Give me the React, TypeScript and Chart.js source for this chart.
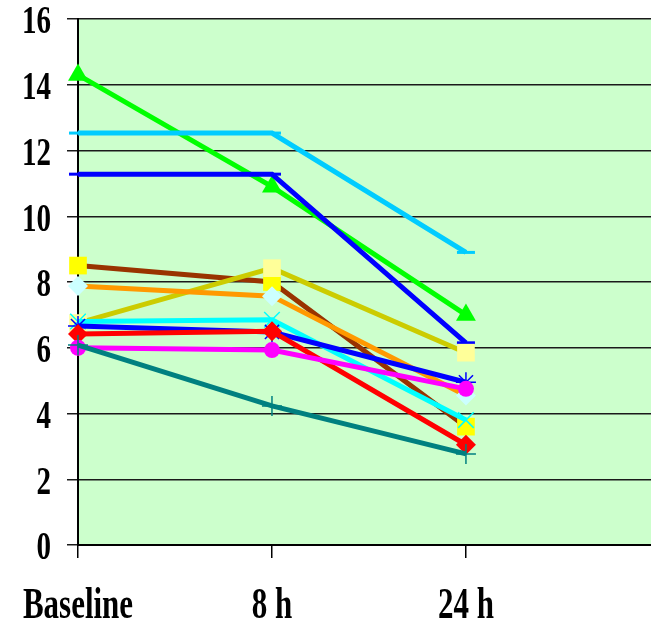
import React, { useEffect, useRef } from "react";
import { Chart, registerables } from "chart.js";

Chart.register(...registerables);

// Time points on the x axis
const categories = ["Baseline", "8 h", "24 h"];

// Y axis range / labels
const yMin = 0;
const yMax = 16;
const yStep = 2;

// Series values at Baseline, 8 h, 24 h
const tealPlus = [6.08, 4.23, 2.77];
const magentaCircle = [6.0, 5.93, 4.75];
const redDiamond = [6.42, 6.5, 3.05];
const blueStar = [6.66, 6.48, 4.95];
const cyanCross = [6.8, 6.85, 3.8];
const orangeDiamond = [7.88, 7.57, 4.55];
const oliveSquare = [6.75, 8.42, 5.85];
const brownSquare = [8.5, 8.0, 3.6];
const blueDash = [11.28, 11.28, 6.15];
const skyDash = [12.53, 12.53, 8.9];
const greenTriangle = [14.3, 10.9, 7.0];

const LABEL_FONT = '"Liberation Serif", "Times New Roman", serif';

const toPoints = (vals: number[]) => vals.map((v, i) => ({ x: i, y: v }));

function series(
  values: number[],
  line: string,
  pointStyle: string,
  pointFill: string,
  radius: number,
  pointBorder = 0,
  pointStroke?: string
) {
  return {
    data: toPoints(values),
    borderColor: line,
    borderWidth: 5,
    pointStyle,
    pointRadius: radius,
    pointHoverRadius: radius,
    pointBackgroundColor: pointFill,
    pointBorderColor: pointStroke ?? pointFill,
    pointBorderWidth: pointBorder,
    tension: 0,
    clip: false as const,
  };
}

const plotBackground = {
  id: "plotBackground",
  beforeDraw(chart: any) {
    const { ctx, chartArea } = chart;
    ctx.save();
    ctx.fillStyle = "#CCFFCC";
    ctx.fillRect(
      chartArea.left,
      chartArea.top,
      chartArea.right - chartArea.left,
      chartArea.bottom - chartArea.top
    );
    ctx.restore();
  },
};

// Tall, narrow bold tick labels (vertically stretched serif text)
const stretchedLabels = {
  id: "stretchedLabels",
  afterDraw(chart: any) {
    const { ctx } = chart;
    const ys = chart.scales.y;
    const xs = chart.scales.x;
    ctx.save();
    ctx.fillStyle = "#000";
    ctx.textBaseline = "middle";

    ctx.font = `bold 29px ${LABEL_FONT}`;
    ctx.textAlign = "right";
    ys.ticks.forEach((t: any) => {
      const py = ys.getPixelForValue(t.value);
      ctx.save();
      ctx.translate(ys.right - 27, py + 4);
      ctx.scale(1, 1.38);
      ctx.fillText(String(t.value), 0, 0);
      ctx.restore();
    });

    ctx.font = `bold 31px ${LABEL_FONT}`;
    ctx.textAlign = "center";
    xs.ticks.forEach((t: any) => {
      const px = xs.getPixelForValue(t.value);
      const label = categories[t.value];
      if (label === undefined) return;
      ctx.save();
      ctx.translate(px, xs.top + 62);
      ctx.scale(1, 1.4);
      ctx.fillText(label, 0, 0);
      ctx.restore();
    });
    ctx.restore();
  },
};

export default function App() {
  const canvasRef = useRef<HTMLCanvasElement | null>(null);

  useEffect(() => {
    if (!canvasRef.current) return;
    const chart = new Chart(canvasRef.current, {
      type: "line",
      data: {
        datasets: [
          series(tealPlus, "#008080", "cross", "#008080", 10, 1.5),
          series(magentaCircle, "#FF00FF", "circle", "#FF00FF", 8),
          series(redDiamond, "#FF0000", "rectRot", "#FF0000", 10),
          series(blueStar, "#0000FF", "star", "#0000FF", 10, 1.5),
          series(cyanCross, "#00FFFF", "crossRot", "#00FFFF", 11, 1.5),
          series(orangeDiamond, "#FF9900", "rectRot", "#CCFFFF", 10),
          series(oliveSquare, "#CCCC00", "rect", "#FFFF99", 12.5),
          series(brownSquare, "#993300", "rect", "#FFFF00", 12.5),
          series(blueDash, "#0000FF", "line", "#0000FF", 9, 3),
          series(skyDash, "#00CCFF", "line", "#00CCFF", 9, 3),
          series(greenTriangle, "#00FF00", "triangle", "#00FF00", 11.5),
        ] as any,
      },
      options: {
        responsive: false,
        animation: false,
        devicePixelRatio: 1,
        layout: {
          autoPadding: false,
          padding: { top: 19, right: 0, left: 0, bottom: 0 },
        },
        plugins: {
          legend: { display: false },
          tooltip: { enabled: false },
        },
        scales: {
          x: {
            type: "linear",
            min: 0,
            max: 2.954,
            afterBuildTicks(scale: any) {
              scale.ticks = categories.map((_, i) => ({ value: i }));
            },
            afterFit(scale: any) {
              scale.height = 81;
              scale.paddingLeft = 0;
              scale.paddingRight = 0;
            },
            ticks: {
              autoSkip: false,
              maxRotation: 0,
              padding: 0,
              color: "rgba(0,0,0,0)",
              font: { size: 8 },
            },
            grid: {
              drawOnChartArea: false,
              drawTicks: true,
              tickLength: 13,
              color: "#000",
              lineWidth: 1.5,
            },
            border: { color: "#000", width: 2 },
          },
          y: {
            min: yMin,
            max: yMax,
            afterFit(scale: any) {
              scale.width = 78;
              scale.paddingTop = 0;
              scale.paddingBottom = 0;
            },
            ticks: {
              stepSize: yStep,
              color: "rgba(0,0,0,0)",
              font: { size: 8 },
            },
            grid: {
              color: "#1a1a1a",
              lineWidth: 1.5,
              drawTicks: true,
              tickLength: 11,
            },
            border: { color: "#000", width: 2 },
          },
        },
      },
      plugins: [plotBackground, stretchedLabels],
    });
    return () => chart.destroy();
  }, []);

  return (
    <canvas
      ref={canvasRef}
      width={651}
      height={626}
      style={{ position: "absolute", left: 0, top: 0, display: "block" }}
    />
  );
}
